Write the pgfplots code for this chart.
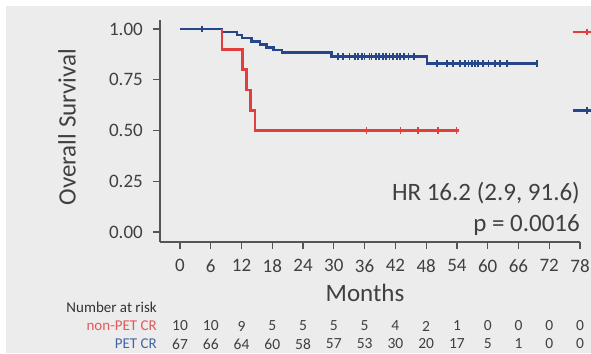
\documentclass[border=0pt]{standalone}
\usepackage{fontspec}
\setmainfont{Carlito}
\usepackage{pgfplots}
\pgfplotsset{compat=1.18}
\definecolor{bg}{RGB}{236,236,236}
\definecolor{kmred}{RGB}{226,62,62}
\definecolor{kmblue}{RGB}{38,70,138}
\definecolor{txt}{RGB}{64,64,64}
\definecolor{axc}{RGB}{85,85,85}
\definecolor{lblred}{RGB}{224,90,90}
\definecolor{lblblue}{RGB}{70,100,165}
\begin{document}
\begin{tikzpicture}[x=1pt,y=1pt]
\useasboundingbox (0,0) rectangle (591,353);
\fill[white] (0,0) rectangle (591,353);
\fill[bg] (6,0) rectangle (591,347);
\begin{axis}[
  at={(160pt,111pt)}, anchor=south west,
  scale only axis, width=420pt, height=222pt,
  xmin=-3.9, xmax=78, ymin=-0.0495, ymax=1.0446,
  axis x line=bottom, axis y line=left,
  axis line style={-, draw=axc, line width=1.2pt},
  xtick={0,6,12,18,24,30,36,42,48,54,60,66,72,78},
  ytick={0,0.25,0.5,0.75,1},
  tick align=outside, major tick length=7pt,
  tick style={draw=axc, line width=1.2pt},
  /pgf/number format/assume math mode=true,
  yticklabel style={/pgf/number format/fixed, /pgf/number format/zerofill, /pgf/number format/precision=2, anchor=east, inner sep=0pt, xshift=-10pt},
  xticklabel style={anchor=north, inner sep=0pt, yshift=-10pt},
  tick label style={font=\fontsize{19}{19}\selectfont, text=txt},
  clip=false,
]
% PET CR (blue)
\addplot[kmblue, line width=2.6pt] coordinates {
(0,1) (8.2,1) (8.2,0.985) (11.1,0.985) (11.1,0.970) (12.1,0.970) (12.1,0.955)
(14,0.955) (14,0.940) (15.6,0.940) (15.6,0.925) (16.9,0.925) (16.9,0.910)
(18.2,0.910) (18.2,0.896) (19.9,0.896) (19.9,0.883) (29.6,0.883) (29.6,0.866)
(48.2,0.866) (48.2,0.830) (69.8,0.830)};
\addplot[kmblue, only marks, mark=|, mark size=3.4pt, mark options={line width=1.4pt}] coordinates {
(4.3,1)
(30.8,0.866) (31.8,0.866) (33,0.866) (34.1,0.866) (34.7,0.866) (35.5,0.866) (36,0.866)
(36.9,0.866) (37.4,0.866) (38.2,0.866) (38.8,0.866) (39.6,0.866) (40.2,0.866) (40.9,0.866)
(41.5,0.866) (42.3,0.866) (42.9,0.866) (43.7,0.866) (44.5,0.866) (45.6,0.866)
(50.1,0.830) (52.1,0.830) (53.2,0.830) (54.6,0.830) (55.6,0.830) (56.2,0.830) (56.9,0.830)
(57.5,0.830) (58.1,0.830) (59.1,0.830) (60.1,0.830) (61.4,0.830) (62.4,0.830) (63.8,0.830)
(69.6,0.830)};
% non-PET CR (red)
\addplot[kmred, line width=2.6pt] coordinates {
(8.2,1) (8.2,0.9) (12.2,0.9) (12.2,0.8) (13,0.8) (13,0.7) (13.7,0.7) (13.7,0.6)
(14.6,0.6) (14.6,0.5) (54.4,0.5)};
\addplot[kmred, only marks, mark=|, mark size=3.4pt, mark options={line width=1.4pt}] coordinates {
(36.4,0.5) (43,0.5) (46.4,0.5) (50.3,0.5) (53.9,0.5)};
% cut-off legend keys at right edge
\addplot[kmred, line width=2.6pt] coordinates {(76.6,0.985) (81,0.985)};
\addplot[kmred, only marks, mark=|, mark size=3.4pt, mark options={line width=1.4pt}] coordinates {(79.4,0.985)};
\addplot[kmblue, line width=2.6pt] coordinates {(76.6,0.599) (81,0.599)};
\addplot[kmblue, only marks, mark=|, mark size=3.4pt, mark options={line width=1.4pt}] coordinates {(79.4,0.599)};
\end{axis}
% labels
\node[rotate=90, text=txt, font=\fontsize{25}{25}\selectfont] at (67,226) {Overall Survival};
\node[text=txt, font=\fontsize{25}{25}\selectfont] at (365,60) {Months};
\node[anchor=east, inner sep=0pt, text=txt, font=\fontsize{25}{25}\selectfont] at (580,160) {HR 16.2 (2.9, 91.6)};
\node[anchor=east, inner sep=0pt, text=txt, font=\fontsize{25}{25}\selectfont] at (580,128) {p = 0.0016};
% number at risk
\node[anchor=east, inner sep=0pt, text=black!80, font=\fontsize{15}{15}\selectfont] at (157,46) {Number at risk};
\node[anchor=east, inner sep=0pt, text=lblred, font=\fontsize{15}{15}\selectfont] at (157,27) {non-PET CR};
\node[anchor=east, inner sep=0pt, text=lblblue, font=\fontsize{15}{15}\selectfont] at (157,9) {PET CR};
\foreach \t/\a/\b in {0/10/67, 6/10/66, 12/9/64, 18/5/60, 24/5/58, 30/5/57, 36/5/53, 42/4/30, 48/2/20, 54/1/17, 60/0/5, 66/0/1, 72/0/0, 78/0/0} {
  \node[text=txt, font=\fontsize{15.5}{15.5}\selectfont] at ({180+5.1282*\t},27) {\a};
  \node[text=txt, font=\fontsize{15.5}{15.5}\selectfont] at ({180+5.1282*\t},9) {\b};
}
\end{tikzpicture}
\end{document}
